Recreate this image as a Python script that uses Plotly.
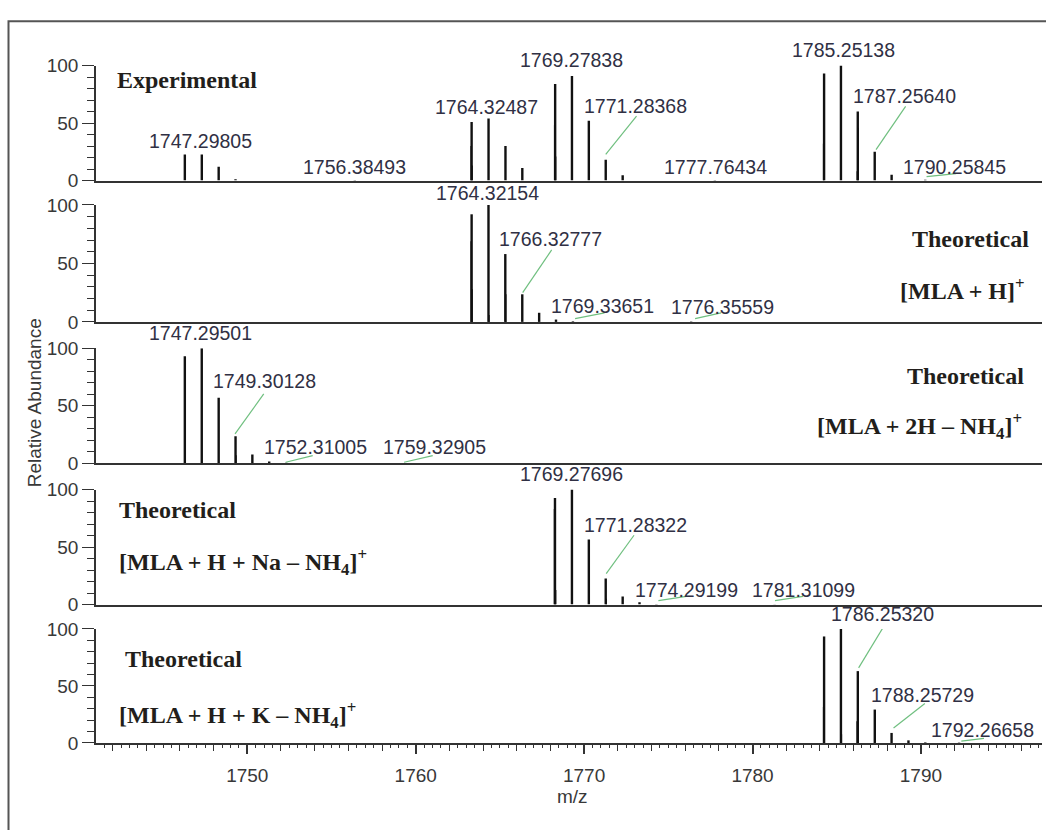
import plotly.graph_objects as go

# ---------------- data: m/z and relative abundance (%) ----------------
# Experimental spectrum
exp_mz = [1746.29, 1747.29805, 1748.30, 1749.30, 1756.38493,
          1763.32, 1764.32487, 1765.33, 1766.33,
          1768.28, 1769.27838, 1770.28, 1771.28368, 1772.29, 1777.76434,
          1784.25, 1785.25138, 1786.25, 1787.25640, 1788.26, 1790.25845]
exp_ab = [22.6, 22.6, 12.0, 1.2, 0.5,
          51.0, 54.0, 30.0, 11.0,
          84.0, 91.0, 52.0, 18.0, 4.7, 0.5,
          93.0, 100.0, 60.0, 25.0, 5.0, 0.8]
exp_sh_mz = [1763.29, 1763.35, 1768.25, 1768.31, 1784.22, 1786.28, 1786.22]
exp_sh_ab = [30.0, 13.0, 48.0, 21.0, 32.0, 46.0, 8.0]

# Theoretical [MLA + H]+
mh_mz = [1763.32, 1764.32154, 1765.32, 1766.32777, 1767.33, 1768.33, 1769.33651, 1776.35559]
mh_ab = [92.0, 100.0, 58.0, 23.6, 7.8, 2.0, 0.5, 0.3]
mh_sh_mz = [1763.29, 1763.35, 1764.35, 1765.35]
mh_sh_ab = [69.0, 28.0, 6.0, 23.6]

# Theoretical [MLA + 2H - NH4]+
m2h_mz = [1746.29, 1747.29501, 1748.30, 1749.30128, 1750.30, 1751.30, 1752.31005, 1759.32905]
m2h_ab = [93.0, 100.0, 57.0, 23.5, 7.6, 1.5, 0.5, 0.3]
m2h_sh_mz = [1749.33]
m2h_sh_ab = [7.0]

# Theoretical [MLA + H + Na - NH4]+
mna_mz = [1768.27, 1769.27696, 1770.28, 1771.28322, 1772.29, 1773.29, 1774.29199, 1781.31099]
mna_ab = [92.6, 100.0, 56.5, 22.6, 7.0, 2.0, 0.5, 0.3]
mna_sh_mz = [1768.24, 1768.31, 1771.31]
mna_sh_ab = [83.0, 12.7, 5.0]

# Theoretical [MLA + H + K - NH4]+
mk_mz = [1784.25, 1785.25, 1786.25320, 1787.26, 1788.25729, 1789.26, 1790.26, 1792.26658]
mk_ab = [93.4, 100.0, 63.0, 29.3, 8.8, 2.3, 0.5, 0.3]
mk_sh_mz = [1784.22, 1785.28, 1786.28, 1786.21]
mk_sh_ab = [31.6, 7.6, 54.0, 19.0]

# Labelled peaks per panel
exp_labels = [1747.29805, 1756.38493, 1764.32487, 1769.27838, 1771.28368,
              1777.76434, 1785.25138, 1787.25640, 1790.25845]
mh_labels = [1764.32154, 1766.32777, 1769.33651, 1776.35559]
m2h_labels = [1747.29501, 1749.30128, 1752.31005, 1759.32905]
mna_labels = [1769.27696, 1771.28322, 1774.29199, 1781.31099]
mk_labels = [1786.25320, 1788.25729, 1792.26658]

x_label_ticks = [1750, 1760, 1770, 1780, 1790]
x_step_ticks = list(range(1742, 1797, 2))

# ---------------- layout constants ----------------
W, H = 1046, 830
LABEL_FONT = dict(family="Liberation Sans, Arial, sans-serif", size=19.5, color="#303044")
TICK_FONT = dict(family="Liberation Sans, Arial, sans-serif", size=19, color="#383838")
TITLE_FONT = dict(family="Liberation Serif, Times New Roman, serif", size=24, color="#221e1b")
AXIS_COLOR = "#333333"
LEADER_COLOR = "#6fbf7f"


def fx(px):
    return px / W


def fy(py):
    return 1 - py / H


x_domain = [fx(96), fx(1042)]
x_range = [1741.015, 1797.19]

# text offsets (px) from the peak top; leader = (x0, y0, x1, y1) px relative to the peak top
exp_style = {
    1747.29805: (-1.7, 13.3, None),
    1756.38493: (-0.8, 12.7, None),
    1764.32487: (-2.0, 11.3, None),
    1769.27838: (-0.5, 15.9, None),
    1771.28368: (29.3, 53.8, (0.0, 5.5, 30.8, 43.8)),
    1777.76434: (1.0, 12.7, None),
    1785.25138: (2.1, 15.3, None),
    1787.25640: (30.1, 55.5, (1.3, 2.2, 30.9, 45.5)),
    1790.25845: (29.2, 12.3, (1.3, 3.0, 30.8, 6.0)),
}
mh_style = {
    1764.32154: (-0.5, 12.0, None),
    1766.32777: (28.5, 55.0, (0.4, 1.7, 29.4, 44.4)),
    1769.33651: (29.9, 15.4, (2.1, 2.7, 31.6, 8.4)),
    1776.35559: (30.9, 14.6, (3.9, 2.9, 29.9, 8.6)),
}
m2h_style = {
    1747.29501: (-0.8, 15.3, None),
    1749.30128: (29.0, 55.6, (-0.5, 2.3, 28.2, 42.3)),
    1752.31005: (28.8, 16.1, (-0.5, 0.4, 26.5, 7.1)),
    1759.32905: (30.0, 16.3, (-0.4, 0.6, 28.3, 7.3)),
}
mna_style = {
    1769.27696: (-0.5, 15.3, None),
    1771.28322: (29.3, 53.3, (0.5, 5.0, 28.3, 43.3)),
    1774.29199: (29.9, 14.4, (2.0, 3.4, 29.9, 7.7)),
    1781.31099: (29.2, 14.6, (0.4, 3.6, 28.4, 7.9)),
}
mk_style = {
    1786.25320: (24.2, 57.0, (0.8, 3.3, 26.9, 46.3)),
    1788.25729: (30.5, 37.7, (2.0, 5.0, 33.3, 29.4)),
    1792.26658: (23.9, 12.3, (2.2, 1.6, 24.9, 4.3)),
}

panels = [
    dict(mz=exp_mz, ab=exp_ab, sh_mz=exp_sh_mz, sh_ab=exp_sh_ab,
         labels=exp_labels, style=exp_style, px=(57, 175)),
    dict(mz=mh_mz, ab=mh_ab, sh_mz=mh_sh_mz, sh_ab=mh_sh_ab,
         labels=mh_labels, style=mh_style, px=(200, 320)),
    dict(mz=m2h_mz, ab=m2h_ab, sh_mz=m2h_sh_mz, sh_ab=m2h_sh_ab,
         labels=m2h_labels, style=m2h_style, px=(347, 465)),
    dict(mz=mna_mz, ab=mna_ab, sh_mz=mna_sh_mz, sh_ab=mna_sh_ab,
         labels=mna_labels, style=mna_style, px=(492, 610)),
    dict(mz=mk_mz, ab=mk_ab, sh_mz=mk_sh_mz, sh_ab=mk_sh_ab,
         labels=mk_labels, style=mk_style, px=(635, 752)),
]


def sticks(mz, ab):
    xs, ys = [], []
    for m, a in zip(mz, ab):
        xs += [m, m, None]
        ys += [0, a, None]
    return xs, ys


fig = go.Figure()
annotations = []
shapes = []
n = len(panels)

for i, p in enumerate(panels, start=1):
    xa = "x" if i == 1 else f"x{i}"
    ya = "y" if i == 1 else f"y{i}"
    xs, ys = sticks(p["mz"], p["ab"])
    fig.add_trace(go.Scatter(x=xs, y=ys, mode="lines", xaxis=xa, yaxis=ya,
                             line=dict(color="#111111", width=2.4),
                             hoverinfo="skip", showlegend=False))
    sx, sy = sticks(p["sh_mz"], p["sh_ab"])
    fig.add_trace(go.Scatter(x=sx, y=sy, mode="lines", xaxis=xa, yaxis=ya,
                             line=dict(color="#111111", width=1.4),
                             hoverinfo="skip", showlegend=False))

    for lab in p["labels"]:
        h = p["ab"][p["mz"].index(lab)]
        dx, dy, leader = p["style"][lab]
        annotations.append(dict(x=lab, y=h, xref=xa, yref=ya, text=f"{lab:.5f}",
                                showarrow=False, xanchor="center", yanchor="middle",
                                xshift=dx, yshift=dy, font=LABEL_FONT))
        if leader is not None:
            x0, y0, x1, y1 = leader
            shapes.append(dict(type="line", xref=xa, yref=ya,
                               xsizemode="pixel", ysizemode="pixel",
                               xanchor=lab, yanchor=h,
                               x0=x0, y0=y0, x1=x1, y1=y1,
                               line=dict(color=LEADER_COLOR, width=1.2)))

    top, base = p["px"]
    last = i == n
    xaxis = dict(domain=x_domain, range=x_range, anchor=ya,
                 showline=True, linecolor=AXIS_COLOR, linewidth=1.6,
                 showgrid=False, zeroline=False, fixedrange=True)
    if last:
        xaxis.update(tickmode="array", tickvals=x_label_ticks,
                     ticks="outside", ticklen=9, tickwidth=1.5, tickcolor=AXIS_COLOR,
                     tickfont=TICK_FONT, ticklabelstandoff=5)
    else:
        xaxis.update(ticks="", showticklabels=False)
    yaxis = dict(domain=[fy(base), fy(top)], range=[0, 100], anchor=xa,
                 showline=True, linecolor=AXIS_COLOR, linewidth=1.6,
                 showgrid=False, zeroline=False, fixedrange=True,
                 tickmode="linear", tick0=0, dtick=50,
                 ticks="outside", ticklen=12, tickwidth=1.4, tickcolor=AXIS_COLOR,
                 tickfont=TICK_FONT,
                 minor=dict(tick0=0, dtick=10, ticks="outside", ticklen=7,
                            tickwidth=1, tickcolor=AXIS_COLOR))
    key = "" if i == 1 else str(i)
    fig.layout["xaxis" + key] = xaxis
    fig.layout["yaxis" + key] = yaxis

# Secondary tick layer on the bottom m/z axis (every 2 units, with half-unit minor ticks)
fig.add_trace(go.Scatter(x=[x_range[0]], y=[0], mode="markers", xaxis="x6", yaxis="y5",
                         marker=dict(opacity=0), hoverinfo="skip", showlegend=False))
fig.layout["xaxis6"] = dict(domain=x_domain, range=x_range, anchor="y5", overlaying="x5",
                            side="bottom", showline=False, showgrid=False, zeroline=False,
                            fixedrange=True, showticklabels=False,
                            tickmode="array", tickvals=x_step_ticks,
                            ticks="outside", ticklen=7, tickwidth=1.3, tickcolor=AXIS_COLOR,
                            minor=dict(tick0=1741, dtick=0.5, ticks="outside", ticklen=4,
                                       tickwidth=1, tickcolor=AXIS_COLOR))

# Panel captions
captions = [
    ("Experimental", 114.9, 71.7, "left"),
    ("Theoretical", 1031.0, 235.0, "right"),
    ("[MLA + H]<sup>+</sup>", 1027.0, 286.7, "right"),
    ("Theoretical", 1026.0, 375.0, "right"),
    ("[MLA + 2H – NH<sub>4</sub>]<sup>+</sup>", 1024.0, 426.7, "right"),
    ("Theoretical", 116.6, 513.3, "left"),
    ("[MLA + H + Na – NH<sub>4</sub>]<sup>+</sup>", 116.6, 566.7, "left"),
    ("Theoretical", 123.4, 666.0, "left"),
    ("[MLA + H + K – NH<sub>4</sub>]<sup>+</sup>", 116.6, 723.3, "left"),
]
for text, px, py, anchor in captions:
    annotations.append(dict(x=fx(px), y=fy(py), xref="paper", yref="paper",
                            text=f"<b>{text}</b>", showarrow=False,
                            xanchor=anchor, yanchor="middle", font=TITLE_FONT))

# Axis titles
annotations.append(dict(x=fx(34.5), y=fy(403), xref="paper", yref="paper",
                        text="Relative Abundance", textangle=-90, showarrow=False,
                        xanchor="center", yanchor="middle", font=TICK_FONT))
annotations.append(dict(x=fx(572), y=fy(807), xref="paper", yref="paper",
                        text="m/z", showarrow=False,
                        xanchor="center", yanchor="middle", font=TICK_FONT))

# Frame around the figure
shapes.append(dict(type="rect", xref="paper", yref="paper",
                   x0=fx(8.5), x1=1.02, y0=-0.02, y1=fy(11.5),
                   line=dict(color="#555555", width=2)))

fig.update_layout(width=W, height=H, autosize=False,
                  margin=dict(l=0, r=0, t=0, b=0),
                  paper_bgcolor="white", plot_bgcolor="white",
                  annotations=annotations, shapes=shapes, showlegend=False)

fig.write_html("out.html")
